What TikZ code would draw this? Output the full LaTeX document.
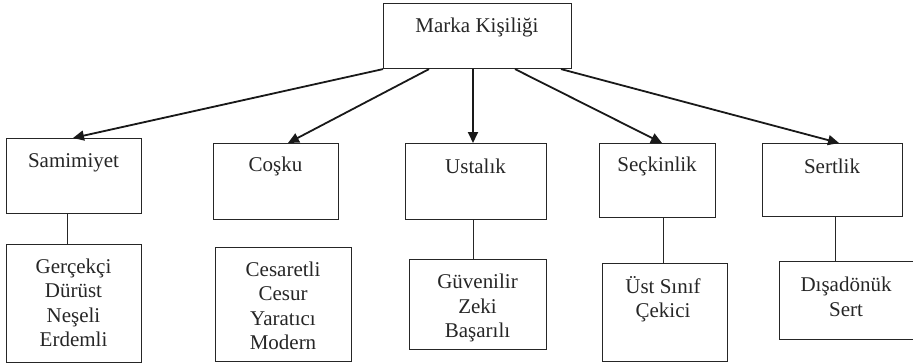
\documentclass[tikz,border=0pt]{standalone}
\usepackage{fontspec}
\setmainfont{Liberation Serif}
\usetikzlibrary{arrows.meta}
\begin{document}
\begin{tikzpicture}[x=1pt,y=-1pt,
  box/.style={draw=black!85,line width=1.1pt,rectangle,inner sep=0pt,anchor=north west},
  txt/.style={font=\fontsize{21}{24.5}\selectfont,align=center,inner sep=0pt,text=black!85},
  arr/.style={line width=1.8pt,draw=black!90,-{Triangle[length=11pt,width=10pt]}},
  ln/.style={line width=0.8pt,draw=black!85}]
\useasboundingbox (0,0) rectangle (913,364);
% top
\node[box,minimum width=188pt,minimum height=65pt] (top) at (383,3) {};
\node[txt] (topt) at (477,27) {Marka Kişiliği};
% row 2
\node[box,minimum width=135pt,minimum height=75pt] (s1) at (6,138) {};
\node[txt] (s1t) at (73.5,163) {Samimiyet};
\node[box,minimum width=125pt,minimum height=76pt] (s2) at (213,143) {};
\node[txt] (s2t) at (275.5,166) {Coşku};
\node[box,minimum width=141pt,minimum height=76pt] (s3) at (405,143) {};
\node[txt] (s3t) at (475.5,166) {Ustalık};
\node[box,minimum width=116pt,minimum height=74pt] (s4) at (599,143) {};
\node[txt] (s4t) at (657,166) {Seçkinlik};
\node[box,minimum width=140pt,minimum height=73pt] (s5) at (762,143) {};
\node[txt] (s5t) at (832,166) {Sertlik};
% row 3
\node[box,minimum width=135pt,minimum height=118pt] (d1) at (6,244) {};
\node[txt] (d1t) at (73.5,303) {Gerçekçi\\Dürüst\\Neşeli\\Erdemli};
\node[box,minimum width=136pt,minimum height=114pt] (d2) at (215,247) {};
\node[txt] (d2t) at (283,306) {Cesaretli\\Cesur\\Yaratıcı\\Modern};
\node[box,minimum width=137pt,minimum height=90pt] (d3) at (409,259) {};
\node[txt] (d3t) at (477.5,308) {Güvenilir\\Zeki\\Başarılı};
\node[box,minimum width=125pt,minimum height=98pt] (d4) at (602,263) {};
\node[txt] (d4t) at (663,299) {Üst Sınıf\\Çekici};
\node[box,minimum width=134pt,minimum height=78pt] (d5) at (779,261) {};
\node[txt] (d5t) at (846,297) {Dışadönük\\Sert};
% arrows
\draw[arr] (top.south west) -- ([xshift=67pt]s1.north west);
\draw[arr] ([xshift=46pt]top.south west) -- ([xshift=75pt]s2.north west);
\draw[arr] ([xshift=90pt]top.south west) -- ([xshift=68pt]s3.north west);
\draw[arr] ([xshift=132pt]top.south west) -- ([xshift=63pt]s4.north west);
\draw[arr] ([xshift=178pt]top.south west) -- ([xshift=77pt]s5.north west);
% vertical lines
\draw[ln] ([xshift=61pt]s1.south west) -- ([xshift=61pt]d1.north west);
\draw[ln] ([xshift=68pt]s3.south west) -- ([xshift=64pt]d3.north west);
\draw[ln] ([xshift=64pt]s4.south west) -- ([xshift=61pt]d4.north west);
\draw[ln] ([xshift=73pt]s5.south west) -- ([xshift=56pt]d5.north west);
\end{tikzpicture}
\end{document}
